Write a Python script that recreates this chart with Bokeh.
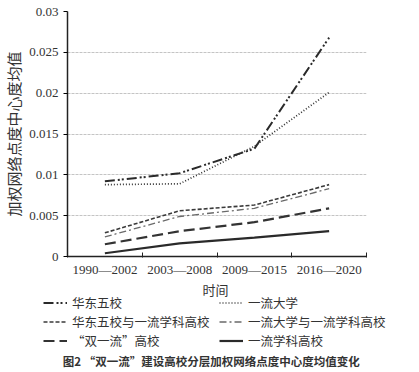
from bokeh.plotting import figure
from bokeh.models import (ColumnDataSource, Legend, LegendItem, FixedTicker, Label, Range1d)
from bokeh.layouts import column
from bokeh.embed import file_html
from bokeh.resources import INLINE

periods = ["1990—2002", "2003—2008", "2009—2015", "2016—2020"]
hd5 = [0.0092, 0.0102, 0.0132, 0.0268]
ylu = [0.0088, 0.0089, 0.0135, 0.0201]
hd5_ylxk = [0.0029, 0.0056, 0.0063, 0.0088]
ylu_ylxk = [0.0024, 0.0049, 0.0059, 0.0083]
syl = [0.0015, 0.0031, 0.0042, 0.0059]
ylxk = [0.0004, 0.0016, 0.0023, 0.0031]

names = ["华东五校", "一流大学", "华东五校与一流学科高校", "一流大学与一流学科高校",
         "“双一流”高校", "一流学科高校"]
series = [hd5, ylu, hd5_ylxk, ylu_ylxk, syl, ylxk]
x_title = "时间"
y_title = "加权网络点度中心度均值"
caption = "图2  “双一流”建设高校分层加权网络点度中心度均值变化"

styles = [
    dict(line_dash="10 3 2 2 2 3", line_width=2.0, line_color="#2a2a2a"),
    dict(line_dash="1 2", line_width=1.7, line_color="#333333"),
    dict(line_dash="4 2", line_width=1.6, line_color="#3a3a3a"),
    dict(line_dash="7 3 2 3", line_width=1.3, line_color="#6a6a6a"),
    dict(line_dash="11 5", line_width=2.2, line_color="#333333"),
    dict(line_dash="solid", line_width=2.2, line_color="#2a2a2a"),
]

serif = "Liberation Serif"
cjk = "Noto Sans CJK SC"

xs = [i + 0.5 for i in range(len(periods))]

p = figure(width=419, height=279, output_backend="svg", toolbar_location=None,
           x_range=Range1d(0, 4), y_range=Range1d(0, 0.03),
           min_border_left=64, min_border_right=53, min_border_top=11,
           min_border_bottom=22, frame_align=False)
p.outline_line_color = None

for ys, st in zip(series, styles):
    src = ColumnDataSource(dict(x=xs, y=ys))
    p.line("x", "y", source=src, **st)

# x axis
p.xaxis.ticker = FixedTicker(ticks=xs, minor_ticks=[0, 1, 2, 3, 4])
p.xaxis.major_label_overrides = {x: lab for x, lab in zip(xs, periods)}
p.xaxis.major_tick_in = 0
p.xaxis.major_tick_out = 0
p.xaxis.minor_tick_in = 4
p.xaxis.minor_tick_out = 1
p.xaxis.minor_tick_line_color = "#222222"
p.xaxis.axis_line_color = "#222222"
p.xaxis.axis_line_width = 1.5
p.xaxis.major_label_text_font = serif
p.xaxis.major_label_text_font_size = "13px"
p.xaxis.major_label_text_color = "#333333"
p.xaxis.major_label_standoff = 4

# y axis
yt = [0, 0.005, 0.01, 0.015, 0.02, 0.025, 0.03]
ylabels = ["0", "0.005", "0.01", "0.015", "0.02", "0.025", "0.03"]
p.yaxis.ticker = FixedTicker(ticks=yt)
p.yaxis.major_label_overrides = {t: l for t, l in zip(yt, ylabels)}
p.yaxis.minor_tick_line_color = None
p.yaxis.major_tick_in = 0
p.yaxis.major_tick_out = 4
p.yaxis.axis_line_color = "#222222"
p.yaxis.axis_line_width = 1.5
p.yaxis.major_label_text_font = serif
p.yaxis.major_label_text_font_size = "13px"
p.yaxis.major_label_text_color = "#333333"
p.yaxis.axis_label = y_title
p.yaxis.axis_label_text_font = cjk
p.yaxis.axis_label_text_font_size = "15px"
p.yaxis.axis_label_text_font_style = "normal"
p.yaxis.axis_label_text_color = "#333333"
p.yaxis.axis_label_standoff = 2

p.xgrid.grid_line_color = None
p.ygrid.grid_line_color = "#c4c4c4"
p.ygrid.grid_line_dash = "3 1"
p.ygrid.grid_line_width = 1

# x title + legend + caption panel (coordinates are pixels of this panel)
QH = 93
q = figure(width=419, height=QH, output_backend="svg", toolbar_location=None,
           x_range=Range1d(0, 419), y_range=Range1d(0, QH),
           min_border_left=0, min_border_right=0, min_border_top=0,
           min_border_bottom=0, frame_align=False)
q.outline_line_color = None
q.axis.visible = False
q.grid.visible = False

q.add_layout(Label(x=215, y=83, text=x_title, text_font=cjk,
                   text_font_size="13px", text_color="#333333",
                   text_align="center", text_baseline="middle"))

nan = float("nan")
proxies = []
for st in styles:
    proxies.append(q.line(x=[nan, nan], y=[nan, nan], **st))

legend_kw = dict(label_text_font=cjk, label_text_font_size="12.5px",
                 label_text_color="#333333", glyph_width=24, glyph_height=17,
                 label_height=17, label_standoff=5, spacing=0, padding=0,
                 margin=0, border_line_color=None, background_fill_alpha=0)
left_items = [LegendItem(label=names[i], renderers=[proxies[i]]) for i in (0, 2, 4)]
right_items = [LegendItem(label=names[i], renderers=[proxies[i]]) for i in (1, 3, 5)]
q.add_layout(Legend(items=left_items, location=(43, 22), **legend_kw), "center")
q.add_layout(Legend(items=right_items, location=(219, 22), **legend_kw), "center")

q.add_layout(Label(x=212, y=12, text=caption, text_font=cjk,
                   text_font_size="11.5px", text_font_style="bold",
                   text_color="#333333", text_align="center",
                   text_baseline="middle"))

layout = column(p, q, spacing=0)
open("out.html", "w").write(file_html(layout, INLINE))
